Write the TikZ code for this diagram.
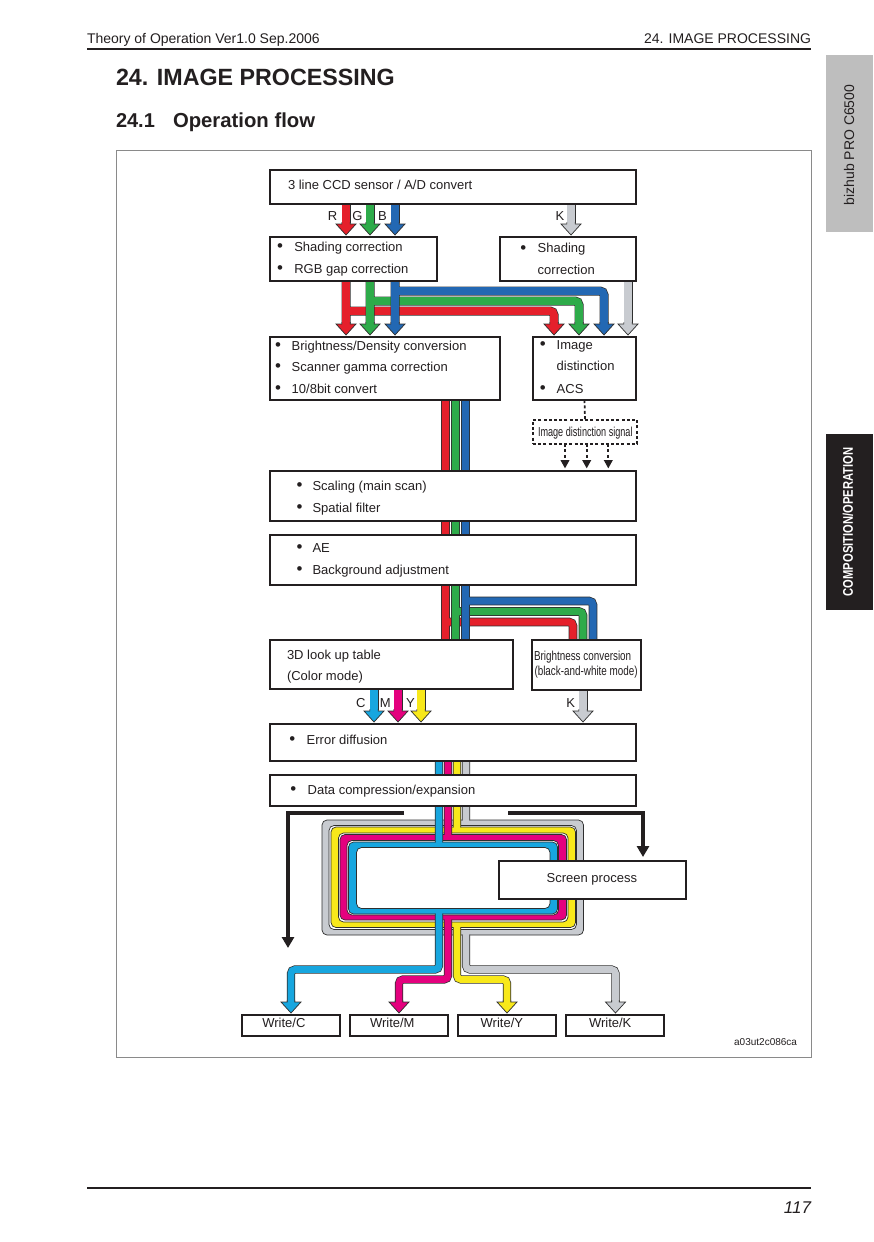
\documentclass[tikz,border=0pt]{standalone}
\usepackage{fontspec}
\usepackage{graphicx}
\usetikzlibrary{arrows.meta,calc}
\setmainfont{Liberation Sans}
\definecolor{ink}{HTML}{231F20}
\definecolor{ol}{HTML}{2E2E2E}
\definecolor{cR}{HTML}{E5202B}
\definecolor{cG}{HTML}{2EAB4A}
\definecolor{cB}{HTML}{2368B3}
\definecolor{cK}{HTML}{C8CBD0}
\definecolor{cC}{HTML}{17A6DF}
\definecolor{cM}{HTML}{E4017E}
\definecolor{cY}{HTML}{F8E81A}
\definecolor{tabgrey}{HTML}{BEBEBE}
\definecolor{framegrey}{HTML}{8A8A8A}

\newcommand{\bandout}[2]{\draw[ol, line width=#1pt+1.4pt, rounded corners=4pt] #2;}
\newcommand{\bandin}[3]{\draw[#1, line width=#2pt, rounded corners=4pt] #3;}
\newcommand{\band}[3]{\bandout{#2}{#3}\bandin{#1}{#2}{#3}}
\newcommand{\fhead}[4]{%
  \pgfmathsetmacro\HdOff{#4/2+0.35}%
  \fill[#1] ({#2-\HdOff},{#3-13}) -- ({#2-\HdOff},{#3-11}) -- ({#2-10},{#3-11}) -- (#2,#3) -- ({#2+10},{#3-11}) -- ({#2+\HdOff},{#3-11}) -- ({#2+\HdOff},{#3-13}) -- cycle;
  \draw[ol, line width=0.7pt, line join=miter] ({#2-\HdOff},{#3-13}) -- ({#2-\HdOff},{#3-11}) -- ({#2-10},{#3-11}) -- (#2,#3) -- ({#2+10},{#3-11}) -- ({#2+\HdOff},{#3-11}) -- ({#2+\HdOff},{#3-13});}
\newcommand{\loopband}[9]{\path[fill=#1, draw=ol, line width=0.7pt, even odd rule, rounded corners=5pt] (#2,#3) rectangle (#4,#5) (#6,#7) rectangle (#8,#9);}
\newcommand{\mkbox}[6][box]{\node[#1, minimum width=#5pt, minimum height=#6pt] (#2) at (#3,#4) {};}
\newcommand{\bigbul}{\raisebox{-0.5pt}{\scalebox{1.3}{\textbullet}}}
\newcommand{\bitem}[5]{\node[txt] (#1b) at ({#2-2.95},#4) {\bigbul};\node[txt] (#1) at (#3,#4) {#5};}

\tikzset{
  box/.style={draw=ink, line width=2pt, fill=white, inner sep=0pt, outer sep=0pt, anchor=north west},
  sigbox/.style={box, line width=1.6pt, dash pattern=on 3pt off 2.2pt},
  txt/.style={inner sep=0pt, outer sep=0pt, anchor=base west, text=ink, font=\fontsize{13}{15}\selectfont},
  lbl/.style={txt, anchor=base},
  dsh/.style={draw=ink, line width=1.7pt, dash pattern=on 3pt off 2.4pt},
  blackarrow/.style={draw=ink, line width=3.2pt, line join=miter, -{Triangle[width=12pt,length=11pt]}},
}

\begin{document}
\begin{tikzpicture}[x=1pt,y=-1pt]
\useasboundingbox (0,0) rectangle (873,1242);
\fill[white] (0,0) rectangle (873,1242);

% ---------- page furniture ----------
\node[txt, font=\fontsize{14}{16}\selectfont] (hdl) at (87,43) {Theory of Operation Ver1.0 Sep.2006};
\node[txt, anchor=base east, font=\fontsize{14}{16}\selectfont] (hdr) at (811,43) {24. IMAGE PROCESSING};
\draw[ink, line width=2pt] (87,49) -- (811,49);
\node[txt, font=\bfseries\fontsize{23.5}{26}\selectfont] (title) at (116,85) {\scalebox{0.99}[1]{24. IMAGE PROCESSING}};
\node[txt, font=\bfseries\fontsize{20}{22}\selectfont] (subn) at (116,127.5) {24.1};
\node[txt, font=\bfseries\fontsize{20.3}{22}\selectfont] (subt) at (173,127.5) {Operation flow};
\fill[tabgrey] (826,55) rectangle (873,232);
\node[rotate=90, inner sep=0pt, text=ink, font=\fontsize{14}{16}\selectfont] (tab1) at (849,145) {bizhub PRO C6500};
\fill[ink] (826,434) rectangle (873,610);
\node[rotate=90, inner sep=0pt, text=white, font=\bfseries\fontsize{14}{16}\selectfont] (tab2) at (848,522) {\scalebox{0.8}[1]{COMPOSITION/OPERATION}};
\draw[framegrey, line width=0.9pt] (116,150) rectangle (811,1057);
\draw[ink, line width=1.4pt] (87,1188) -- (811,1188);
\node[txt, anchor=base east, font=\itshape\fontsize{17}{19}\selectfont] (pg) at (811,1213) {117};
\node[txt, anchor=base east, font=\fontsize{10}{12}\selectfont] (code) at (797,1045) {a03ut2c086ca};

% ---------- CCD -> shading ----------
\band{cR}{7.6}{(346,204) -- (346,223)} \fhead{cR}{346}{235}{7.6}
\band{cG}{7.6}{(370,204) -- (370,223)} \fhead{cG}{370}{235}{7.6}
\band{cB}{7.6}{(395,204) -- (395,223)} \fhead{cB}{395}{235}{7.6}
\band{cK}{7.6}{(571,204) -- (571,223)} \fhead{cK}{571}{235}{7.6}

% ---------- shading -> brightness / image distinction ----------
\band{cR}{7.6}{(346,281) -- (346,323) (346,311) -- (554,311) -- (554,323)}
\fhead{cR}{346}{335}{7.6} \fhead{cR}{554}{335}{7.6}
\band{cG}{7.6}{(370,281) -- (370,323) (370,301) -- (579,301) -- (579,323)}
\fhead{cG}{370}{335}{7.6} \fhead{cG}{579}{335}{7.6}
\band{cB}{7.6}{(395,281) -- (395,323) (395,291) -- (604,291) -- (604,323)}
\fhead{cB}{395}{335}{7.6} \fhead{cB}{604}{335}{7.6}
\band{cK}{7.6}{(628,281) -- (628,323)} \fhead{cK}{628}{335}{7.6}

% ---------- RGB bars down to 3D LUT / B&W ----------
\band{cR}{7.2}{(445.5,400) -- (445.5,640) (445.5,622) -- (573,622) -- (573,640)}
\band{cG}{7.2}{(455.5,400) -- (455.5,640) (455.5,611.5) -- (583,611.5) -- (583,640)}
\band{cB}{7.2}{(465.5,400) -- (465.5,640) (465.5,601) -- (593,601) -- (593,640)}

% ---------- LUT -> error diffusion ----------
\band{cC}{7.6}{(374,689) -- (374,710)} \fhead{cC}{374}{722}{7.6}
\band{cM}{7.6}{(398,689) -- (398,710)} \fhead{cM}{398}{722}{7.6}
\band{cY}{7.6}{(421,689) -- (421,710)} \fhead{cY}{421}{722}{7.6}
\band{cK}{7.6}{(583,690) -- (583,710)} \fhead{cK}{583}{722}{7.6}

% ---------- CMYK loops ----------
\loopband{cK}{322}{820}{583.5}{935}{329}{825.5}{576.5}{929.5}
\bandout{6.8}{(466,761) -- (466,820.3) (466,934.7) -- (466,969.5) -- (615.5,969.5) -- (615.5,1002)}
\bandin{cK}{6.8}{(466,761) -- (466,823) (466,932) -- (466,969.5) -- (615.5,969.5) -- (615.5,1002)}
\fhead{cK}{615.5}{1013}{6.8}

\loopband{cY}{331}{827}{575.5}{927.5}{338.5}{833}{568}{922}
\bandout{6.8}{(457,761) -- (457,827.3) (457,927.2) -- (457,979.5) -- (507,979.5) -- (507,1002)}
\bandin{cY}{6.8}{(457,761) -- (457,830) (457,924.5) -- (457,979.5) -- (507,979.5) -- (507,1002)}
\fhead{cY}{507}{1013}{6.8}

\loopband{cM}{340}{834.5}{566.5}{920}{347}{840.5}{558.5}{915}
\bandout{6.8}{(448,761) -- (448,834.8) (448,919.7) -- (448,979.5) -- (399,979.5) -- (399,1002)}
\bandin{cM}{6.8}{(448,761) -- (448,837.5) (448,917.5) -- (448,979.5) -- (399,979.5) -- (399,1002)}
\fhead{cM}{399}{1013}{6.8}

\loopband{cC}{348.5}{842}{557.5}{914}{356.5}{847.5}{550}{908.5}
\bandout{6.8}{(439,761) -- (439,842.3) (439,913.7) -- (439,969.5) -- (291,969.5) -- (291,1002)}
\bandin{cC}{6.8}{(439,761) -- (439,845) (439,911) -- (439,969.5) -- (291,969.5) -- (291,1002)}
\fhead{cC}{291}{1013}{6.8}

% ---------- boxes ----------
\mkbox{ccd}{270}{170}{366}{34}
\mkbox{shd}{270}{237}{167}{44}
\mkbox{shk}{500}{237}{136}{44}
\mkbox{bri}{270}{337}{230}{63}
\mkbox{idt}{533}{337}{103}{63}
\mkbox[sigbox]{sig}{533}{420}{104}{24}
\mkbox{scl}{270}{471}{366}{50}
\mkbox{ae}{270}{535}{366}{50}
\mkbox{lut}{270}{640}{243}{49}
\mkbox{bwc}{532}{640}{109}{50}
\mkbox{err}{270}{724}{366}{37}
\mkbox{dcp}{270}{775}{366}{31}
\mkbox{scr}{499}{861}{187}{38}
\mkbox{wc}{242}{1015}{98}{21}
\mkbox{wm}{350}{1015}{98}{21}
\mkbox{wy}{458}{1015}{98}{21}
\mkbox{wk}{566}{1015}{98}{21}

% ---------- texts ----------
\node[txt] (t1) at (288,189.3) {3 line CCD sensor / A/D convert};
\bitem{t2}{280}{294.3}{251}{Shading correction}
\bitem{t3}{280}{294.3}{273.3}{RGB gap correction}
\bitem{t4}{523.3}{537.7}{252.7}{Shading}
\node[txt] (t5) at (537.7,274.3) {correction};
\bitem{t6}{278}{291.7}{350}{Brightness/Density conversion}
\bitem{t7}{278}{291.7}{371}{Scanner gamma correction}
\bitem{t8}{278}{291.7}{393.3}{10/8bit convert}
\bitem{t9}{542.7}{556.7}{349.3}{Image}
\node[txt] (t10) at (556.7,370.7) {distinction};
\bitem{t11}{542.7}{556.7}{393.3}{ACS}
\node[lbl] (t12) at (585.3,436) {\scalebox{0.7}[1]{Image distinction signal}};
\bitem{t13}{299.5}{312.5}{490}{Scaling (main scan)}
\bitem{t14}{299.5}{312.5}{512}{Spatial filter}
\bitem{t15}{299.5}{312.5}{552}{AE}
\bitem{t16}{299.5}{312.5}{574}{Background adjustment}
\node[txt] (t17) at (287,659.3) {3D look up table};
\node[txt] (t18) at (287,680.7) {(Color mode)};
\node[txt] (t19) at (534,660) {\scalebox{0.76}[1]{Brightness conversion}};
\node[txt] (t20) at (534.5,675.7) {\scalebox{0.76}[1]{(black-and-white mode)}};
\bitem{t21}{292.3}{306.7}{744}{Error diffusion}
\bitem{t22}{293.3}{307.7}{794.3}{Data compression/expansion}
\node[txt] (t23) at (546.7,882.7) {Screen process};
\node[txt] (t24) at (262.3,1027.7) {Write/C};
\node[txt] (t25) at (370,1027.7) {Write/M};
\node[txt] (t26) at (480.7,1027.7) {Write/Y};
\node[txt] (t27) at (589,1027.7) {Write/K};

% channel labels
\node[lbl] (lR) at (332.5,220.7) {R};
\node[lbl] (lG) at (357.5,220.7) {G};
\node[lbl] (lB) at (382.5,220.7) {B};
\node[lbl] (lK1) at (560,220.7) {K};
\node[lbl] (lC) at (360.8,707.3) {C};
\node[lbl] (lM) at (385.3,707.3) {M};
\node[lbl] (lY) at (410.5,707.3) {Y};
\node[lbl] (lK2) at (570.8,707.3) {K};

% ---------- image distinction signal ----------
\draw[dsh] (idt.south) -- (sig.north);
\coordinate (s1) at (565,460);
\coordinate (s2) at (586.7,460);
\coordinate (s3) at (608.3,460);
\foreach \p in {s1,s2,s3}{
  \draw[dsh] (sig.south -| \p) -- (\p);
  \fill[ink] ($(\p)+(-4.6,0)$) -- ($(\p)+(4.6,0)$) -- ($(\p)+(0,8.3)$) -- cycle;
}

% ---------- black arrows ----------
\coordinate (bl0) at (404,813);
\coordinate (bl1) at (288,813);
\coordinate (bl2) at (288,948);
\coordinate (br0) at (508,813);
\coordinate (br1) at (643,813);
\coordinate (br2) at (643,857);
\draw[blackarrow] (bl0) -- (bl1) -- (bl2);
\draw[blackarrow] (br0) -- (br1) -- (br2);
\end{tikzpicture}
\end{document}
